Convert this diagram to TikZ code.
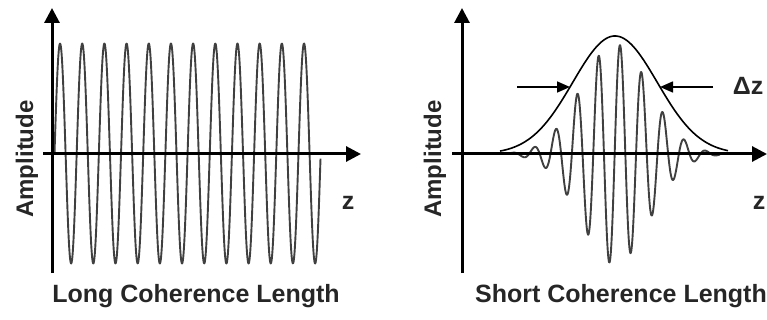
\documentclass[tikz,border=0pt]{standalone}
\usepackage{fontspec}
\setmainfont{Liberation Sans}
\usetikzlibrary{arrows.meta}
\begin{document}
\begin{tikzpicture}[x=1pt,y=-1pt,
  axis/.style={line width=3pt,black,-{Triangle[length=15pt,width=15pt]}},
  wave/.style={line width=1.9pt,black!75,line join=round},
  env/.style={line width=1.6pt,black},
  dzarrow/.style={line width=1.6pt,black,-{Triangle[length=13pt,width=11pt]}},
  lbl/.style={font=\bfseries\fontsize{25}{30}\selectfont,text=black!85,inner sep=0pt},
  ylbl/.style={font=\bfseries\fontsize{24}{28}\selectfont,text=black!85,inner sep=0pt,rotate=90}]
\useasboundingbox (0,0) rectangle (767,320);
% left panel
\coordinate (lyb) at (52,273);
\coordinate (lyt) at (52,8);
\coordinate (lxl) at (43,154);
\coordinate (lxr) at (361,154);
\draw[wave] plot[domain=54.5:320.5,samples=700,smooth] (\x,{153.5-110*sin((\x-54.5)/22.18*360)});
\draw[axis] (lyb) -- (lyt);
\draw[axis] (lxl) -- (lxr);
\node[lbl,anchor=base] (lz) at (348,209) {z};
\node[ylbl] (lamp) at (27,159) {Amplitude};
\node[lbl,anchor=base] (lcap) at (196,302) {Long Coherence Length};
% right panel
\coordinate (ryb) at (462,273);
\coordinate (ryt) at (462,8);
\coordinate (rxl) at (452,154);
\coordinate (rxr) at (767,154);
\draw[wave] plot[domain=510:720,samples=600,smooth] (\x,{154-110*exp(-(\x-615)*(\x-615)/2350)*cos((\x-620)/21.4*360)});
\draw[env] plot[domain=500:728,samples=200,smooth] (\x,{154-118*exp(-(\x-615)*(\x-615)/3578)});
\draw[axis] (ryb) -- (ryt);
\draw[axis] (rxl) -- (rxr);
\coordinate (dla) at (517,87);
\coordinate (dlb) at (570,87);
\coordinate (dra) at (713,87);
\coordinate (drb) at (660,87);
\draw[dzarrow] (dla) -- (dlb);
\draw[dzarrow] (dra) -- (drb);
\node[lbl,anchor=base] (dz) at (748,95) {Δz};
\node[lbl,anchor=base] (rz) at (759,209) {z};
\node[ylbl] (ramp) at (435,159) {Amplitude};
\node[lbl,anchor=base] (rcap) at (621,302) {Short Coherence Length};
\end{tikzpicture}
\end{document}
